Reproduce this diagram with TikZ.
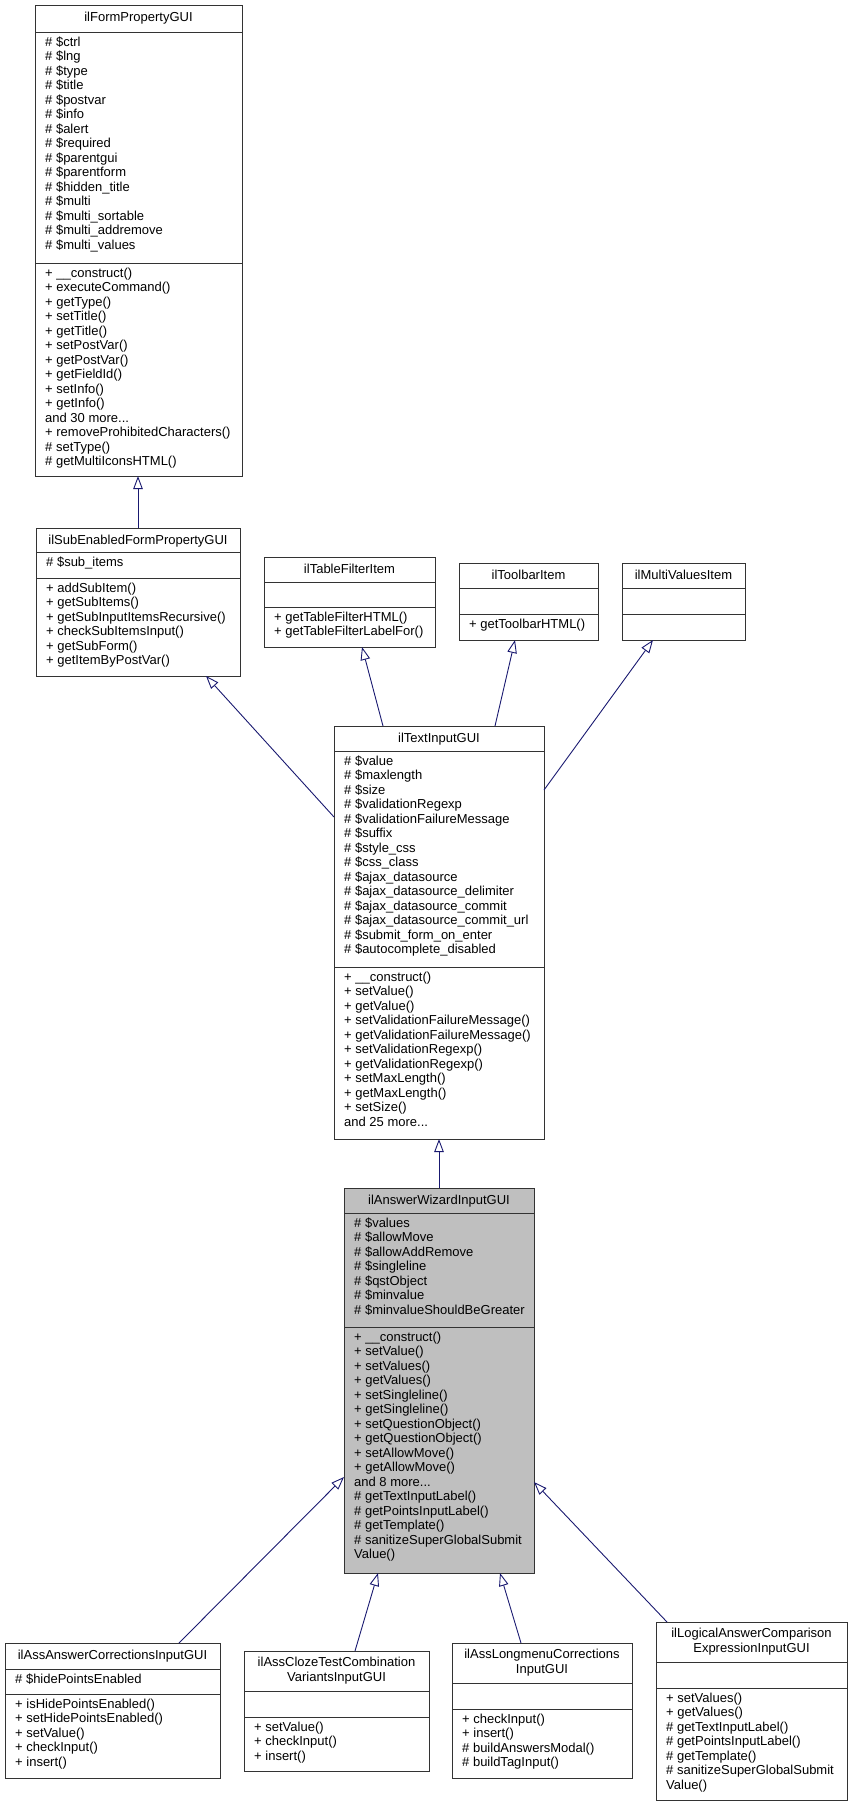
\documentclass[tikz,border=0pt]{standalone}
\usepackage{fontspec}
\setmainfont{Liberation Sans}
\usetikzlibrary{arrows.meta}
\definecolor{edgeblue}{HTML}{191970}
\definecolor{boxgray}{HTML}{BFBFBF}
\newcommand\dxfont{\fontsize{13}{14.5}\selectfont}
\tikzset{
x=1pt, y=-1pt, % pixel coordinates, y down
cls/.style={draw=black!80, line width=1pt, fill=white, inner sep=0pt, outer sep=0pt, anchor=north west}, % class box
sepline/.style={draw=black!80, line width=1pt}, % separators inside a class box
ttl/.style={anchor=north, align=center, inner sep=0pt, font=\dxfont, execute at begin node=\strut}, % class name
mem/.style={anchor=north west, align=left, inner sep=0pt, font=\dxfont, execute at begin node=\strut}, % members
inh/.style={draw=edgeblue, line width=0.9pt, -{Triangle[open, length=13pt, width=9.5pt]}}, % inheritance
}

\begin{document}
\begin{tikzpicture}
  \useasboundingbox (0,0) rectangle (852,1807);

  % ilFormPropertyGUI
  \node[cls, minimum width=207pt, minimum height=471pt] (fpg) at (35,5) {};
  \draw[sepline] (fpg.west |- 0,32) -- (fpg.east |- 0,32);
  \draw[sepline] (fpg.west |- 0,263) -- (fpg.east |- 0,263);
  \node[ttl] at (138.5,11) {ilFormPropertyGUI};
  \node[mem] at (45,36.5) {\# \$ctrl\\\# \$lng\\\# \$type\\\# \$title\\\# \$postvar\\\# \$info\\\# \$alert\\\# \$required\\\# \$parentgui\\\# \$parentform\\\# \$hidden\_title\\\# \$multi\\\# \$multi\_sortable\\\# \$multi\_addremove\\\# \$multi\_values};
  \node[mem] at (45,267.5) {+ \_\_construct()\\+ executeCommand()\\+ getType()\\+ setTitle()\\+ getTitle()\\+ setPostVar()\\+ getPostVar()\\+ getFieldId()\\+ setInfo()\\+ getInfo()\\and 30 more...\\+ removeProhibitedCharacters()\\\# setType()\\\# getMultiIconsHTML()};

  % ilSubEnabledFormPropertyGUI
  \node[cls, minimum width=204pt, minimum height=148pt] (sefp) at (36,528) {};
  \draw[sepline] (sefp.west |- 0,552) -- (sefp.east |- 0,552);
  \draw[sepline] (sefp.west |- 0,578) -- (sefp.east |- 0,578);
  \node[ttl] at (138,534) {ilSubEnabledFormPropertyGUI};
  \node[mem] at (46,556.5) {\# \$sub\_items};
  \node[mem] at (46,582.5) {+ addSubItem()\\+ getSubItems()\\+ getSubInputItemsRecursive()\\+ checkSubItemsInput()\\+ getSubForm()\\+ getItemByPostVar()};

  % ilTableFilterItem
  \node[cls, minimum width=171pt, minimum height=90pt] (tfi) at (264,557) {};
  \draw[sepline] (tfi.west |- 0,582) -- (tfi.east |- 0,582);
  \draw[sepline] (tfi.west |- 0,607) -- (tfi.east |- 0,607);
  \node[ttl] at (349.5,563) {ilTableFilterItem};
  \node[mem] at (274,611.5) {+ getTableFilterHTML()\\+ getTableFilterLabelFor()};

  % ilToolbarItem
  \node[cls, minimum width=139pt, minimum height=77pt] (tbi) at (459,563) {};
  \draw[sepline] (tbi.west |- 0,588) -- (tbi.east |- 0,588);
  \draw[sepline] (tbi.west |- 0,614) -- (tbi.east |- 0,614);
  \node[ttl] at (528.5,569) {ilToolbarItem};
  \node[mem] at (469,618.5) {+ getToolbarHTML()};

  % ilMultiValuesItem
  \node[cls, minimum width=123pt, minimum height=77pt] (mvi) at (622,563) {};
  \draw[sepline] (mvi.west |- 0,588) -- (mvi.east |- 0,588);
  \draw[sepline] (mvi.west |- 0,614) -- (mvi.east |- 0,614);
  \node[ttl] at (683.5,569) {ilMultiValuesItem};

  % ilTextInputGUI
  \node[cls, minimum width=210pt, minimum height=413pt] (tin) at (334,726) {};
  \draw[sepline] (tin.west |- 0,751) -- (tin.east |- 0,751);
  \draw[sepline] (tin.west |- 0,967) -- (tin.east |- 0,967);
  \node[ttl] at (439,732) {ilTextInputGUI};
  \node[mem] at (344,755.5) {\# \$value\\\# \$maxlength\\\# \$size\\\# \$validationRegexp\\\# \$validationFailureMessage\\\# \$suffix\\\# \$style\_css\\\# \$css\_class\\\# \$ajax\_datasource\\\# \$ajax\_datasource\_delimiter\\\# \$ajax\_datasource\_commit\\\# \$ajax\_datasource\_commit\_url\\\# \$submit\_form\_on\_enter\\\# \$autocomplete\_disabled};
  \node[mem] at (344,971.5) {+ \_\_construct()\\+ setValue()\\+ getValue()\\+ setValidationFailureMessage()\\+ getValidationFailureMessage()\\+ setValidationRegexp()\\+ getValidationRegexp()\\+ setMaxLength()\\+ getMaxLength()\\+ setSize()\\and 25 more...};

  % ilAnswerWizardInputGUI
  \node[cls, fill=boxgray, minimum width=190pt, minimum height=385pt] (awi) at (344,1188) {};
  \draw[sepline] (awi.west |- 0,1213) -- (awi.east |- 0,1213);
  \draw[sepline] (awi.west |- 0,1327) -- (awi.east |- 0,1327);
  \node[ttl] at (439,1194) {ilAnswerWizardInputGUI};
  \node[mem] at (354,1217.5) {\# \$values\\\# \$allowMove\\\# \$allowAddRemove\\\# \$singleline\\\# \$qstObject\\\# \$minvalue\\\# \$minvalueShouldBeGreater};
  \node[mem] at (354,1331.5) {+ \_\_construct()\\+ setValue()\\+ setValues()\\+ getValues()\\+ setSingleline()\\+ getSingleline()\\+ setQuestionObject()\\+ getQuestionObject()\\+ setAllowMove()\\+ getAllowMove()\\and 8 more...\\\# getTextInputLabel()\\\# getPointsInputLabel()\\\# getTemplate()\\\# sanitizeSuperGlobalSubmit\\Value()};

  % ilAssAnswerCorrectionsInputGUI
  \node[cls, minimum width=215pt, minimum height=135pt] (aac) at (5,1643) {};
  \draw[sepline] (aac.west |- 0,1669) -- (aac.east |- 0,1669);
  \draw[sepline] (aac.west |- 0,1694) -- (aac.east |- 0,1694);
  \node[ttl] at (112.5,1649) {ilAssAnswerCorrectionsInputGUI};
  \node[mem] at (15,1673.5) {\# \$hidePointsEnabled};
  \node[mem] at (15,1698.5) {+ isHidePointsEnabled()\\+ setHidePointsEnabled()\\+ setValue()\\+ checkInput()\\+ insert()};

  % ilAssClozeTestCombinationVariantsInputGUI
  \node[cls, minimum width=185pt, minimum height=120pt] (act) at (244,1651) {};
  \draw[sepline] (act.west |- 0,1691) -- (act.east |- 0,1691);
  \draw[sepline] (act.west |- 0,1717) -- (act.east |- 0,1717);
  \node[ttl] at (336.5,1657) {ilAssClozeTestCombination\\VariantsInputGUI};
  \node[mem] at (254,1721.5) {+ setValue()\\+ checkInput()\\+ insert()};

  % ilAssLongmenuCorrectionsInputGUI
  \node[cls, minimum width=180pt, minimum height=135pt] (alc) at (452,1643) {};
  \draw[sepline] (alc.west |- 0,1683) -- (alc.east |- 0,1683);
  \draw[sepline] (alc.west |- 0,1709) -- (alc.east |- 0,1709);
  \node[ttl] at (542,1649) {ilAssLongmenuCorrections\\InputGUI};
  \node[mem] at (462,1713.5) {+ checkInput()\\+ insert()\\\# buildAnswersModal()\\\# buildTagInput()};

  % ilLogicalAnswerComparisonExpressionInputGUI
  \node[cls, minimum width=191pt, minimum height=178pt] (lac) at (656,1622) {};
  \draw[sepline] (lac.west |- 0,1662) -- (lac.east |- 0,1662);
  \draw[sepline] (lac.west |- 0,1688) -- (lac.east |- 0,1688);
  \node[ttl] at (751.5,1628) {ilLogicalAnswerComparison\\ExpressionInputGUI};
  \node[mem] at (666,1692.5) {+ setValues()\\+ getValues()\\\# getTextInputLabel()\\\# getPointsInputLabel()\\\# getTemplate()\\\# sanitizeSuperGlobalSubmit\\Value()};

  % inheritance
  \draw[inh] (sefp.north) -- (sefp.north |- fpg.south);
  \draw[inh] ([yshift=-91pt]tin.north west) -- ([xshift=170pt]sefp.south west);
  \draw[inh] ([xshift=49pt]tin.north west) -- ([xshift=98pt]tfi.south west);
  \draw[inh] ([xshift=161pt]tin.north west) -- ([xshift=56pt]tbi.south west);
  \draw[inh] ([yshift=-64pt]tin.north east) -- ([xshift=31pt]mvi.south west);
  \draw[inh] (awi.north) -- (tin.south);
  \draw[inh] ([xshift=174pt]aac.north west) -- ([yshift=-289pt]awi.north west);
  \draw[inh] ([xshift=111pt]act.north west) -- ([xshift=34pt]awi.south west);
  \draw[inh] ([xshift=69pt]alc.north west) -- ([xshift=156pt]awi.south west);
  \draw[inh] ([xshift=11pt]lac.north west) -- ([yshift=-294pt]awi.north east);
\end{tikzpicture}
\end{document}
